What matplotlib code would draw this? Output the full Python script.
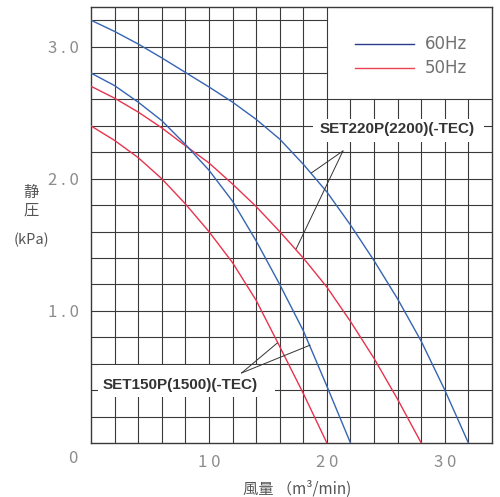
import matplotlib
matplotlib.use("Agg")
import matplotlib.pyplot as plt
from matplotlib.patches import Rectangle
import numpy as np

plt.rcParams['font.family'] = ['Noto Sans CJK JP', 'DejaVu Sans']

# air flow (m3/min) / static pressure (kPa)
x_220_60 = [0, 2, 4, 6, 8, 10, 12, 14, 16, 18, 20, 22, 24, 26, 28, 30, 32]
y_220_60 = [3.2, 3.115, 3.02, 2.915, 2.805, 2.695, 2.58, 2.45, 2.30, 2.11, 1.90, 1.65, 1.38, 1.09, 0.77, 0.40, 0.0]
x_220_50 = [0, 2, 4, 6, 8, 10, 12, 14, 16, 18, 20, 22, 24, 26, 28]
y_220_50 = [2.7, 2.61, 2.505, 2.385, 2.25, 2.12, 1.96, 1.79, 1.60, 1.40, 1.18, 0.92, 0.64, 0.33, 0.0]
x_150_60 = [0, 2, 4, 6, 8, 10, 12, 14, 16, 18, 20, 22]
y_150_60 = [2.8, 2.705, 2.58, 2.44, 2.26, 2.065, 1.83, 1.53, 1.20, 0.85, 0.43, 0.0]
x_150_50 = [0, 2, 4, 6, 8, 10, 12, 14, 16, 18, 20]
y_150_50 = [2.4, 2.29, 2.16, 2.0, 1.81, 1.60, 1.365, 1.08, 0.73, 0.375, 0.0]

ytick_vals = [1.0, 2.0, 3.0]
ytick_labels = ["1 . 0", "2 . 0", "3 . 0"]
xtick_vals = [10, 20, 30]
xtick_labels = ["1 0", "2 0", "3 0"]

BLUE = "#3564b4"
RED = "#e8334d"
GRID = "#3a3a3a"
TXT = "#8c8c8c"

fig = plt.figure(figsize=(5, 4.97), dpi=100)
ax = fig.add_axes([0.182, 0.1087, 0.802, 0.8772])
xmax, ymax = 34, 3.3
ax.set_xlim(0, xmax)
ax.set_ylim(0, ymax)

# grid: 2 m3/min x 0.2 kPa, cut out where the legend box sits
lx, ly = 20, 2.6
for gx in np.arange(2, xmax, 2):
    top = ly if gx > lx else ymax
    ax.plot([gx, gx], [0, top], color=GRID, lw=0.8, zorder=1)
for gy in np.arange(0.2, ymax - 0.01, 0.2):
    right = lx if gy > ly + 0.01 else xmax
    ax.plot([0, right], [gy, gy], color=GRID, lw=0.8, zorder=1)
for s in ax.spines.values():
    s.set_color(GRID)
    s.set_linewidth(1.0)

ax.plot(x_220_60, y_220_60, color=BLUE, lw=1.0, zorder=3)
ax.plot(x_220_50, y_220_50, color=RED, lw=1.0, zorder=3)
ax.plot(x_150_60, y_150_60, color=BLUE, lw=1.0, zorder=3)
ax.plot(x_150_50, y_150_50, color=RED, lw=1.0, zorder=3)

# legend inside the white box
ax.plot([22.4, 27.4], [3.02, 3.02], color="#2a3a8c", lw=1.0)
ax.plot([22.4, 27.4], [2.84, 2.84], color="#e84456", lw=1.0)
ax.text(28.3, 3.02, "60Hz", color="#707070", fontsize=12, va="center", family=["DejaVu Sans"])
ax.text(28.3, 2.84, "50Hz", color="#707070", fontsize=12, va="center", family=["DejaVu Sans"])

# model labels with leader lines
bold = dict(fontsize=11, fontweight="bold", color="#333333", family=["Liberation Sans", "DejaVu Sans"], zorder=6)
ax.add_patch(Rectangle((18.8, 2.28), 14.5, 0.17, facecolor="white", edgecolor="none", zorder=4))
ax.text(26.0, 2.375, "SET220P(2200)(-TEC)", ha="center", va="center", **bold)
ax.plot([21.36, 18.7], [2.21, 2.045], color="#333333", lw=0.7, zorder=5)
ax.plot([21.36, 17.4], [2.21, 1.47], color="#333333", lw=0.7, zorder=5)

ax.add_patch(Rectangle((0.6, 0.35), 15.0, 0.24, facecolor="white", edgecolor="none", zorder=4))
ax.text(7.6, 0.44, "SET150P(1500)(-TEC)", ha="center", va="center", **bold)
ax.plot([12.77, 15.8], [0.53, 0.757], color="#333333", lw=0.7, zorder=5)
ax.plot([12.77, 18.56], [0.53, 0.74], color="#333333", lw=0.7, zorder=5)

ax.set_xticks(xtick_vals)
ax.set_xticklabels(xtick_labels)
ax.set_yticks(ytick_vals)
ax.set_yticklabels(ytick_labels)
ax.tick_params(length=0, labelsize=12, labelcolor=TXT, pad=9)
ax.tick_params(axis="x", pad=8)
ax.text(-1.5, -0.115, "0", color=TXT, fontsize=12, ha="center", va="center")

fig.text(0.062, 0.613, "静", color="#555555", fontsize=11, ha="center", va="center")
fig.text(0.062, 0.577, "圧", color="#555555", fontsize=11, ha="center", va="center")
fig.text(0.062, 0.517, "(kPa)", color="#555555", fontsize=10.5, ha="center", va="center")
fig.text(0.595, 0.016, "風量 （m³/min)", color="#555555", fontsize=11, ha="center", va="center")

fig.savefig("out.png", dpi=100)
